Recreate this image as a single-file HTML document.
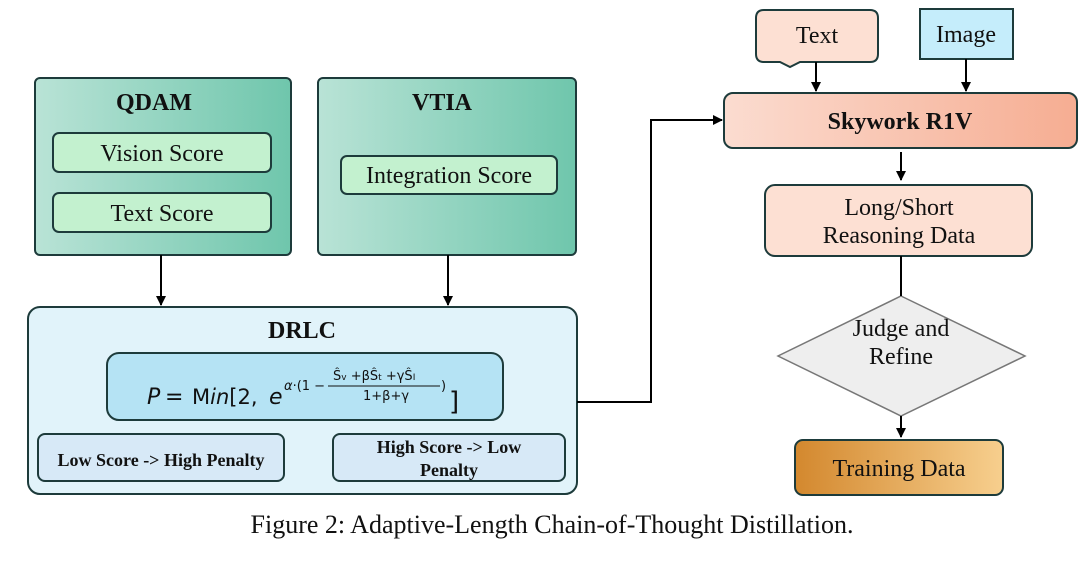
<!DOCTYPE html>
<html><head><style>body{margin:0;background:#fff}</style></head><body>
<svg width="1080" height="560" viewBox="0 0 1080 560" xmlns="http://www.w3.org/2000/svg" font-family="Liberation Serif, serif">
<defs>
<linearGradient id="gq" x1="0" x2="1"><stop offset="0" stop-color="#b9e3d6"/><stop offset="1" stop-color="#6fc6ac"/></linearGradient>
<linearGradient id="gs" x1="0" x2="1"><stop offset="0" stop-color="#fbdcd0"/><stop offset="1" stop-color="#f6ad92"/></linearGradient>
<linearGradient id="gt" x1="0" x2="1"><stop offset="0" stop-color="#d3882e"/><stop offset="1" stop-color="#f7cf8e"/></linearGradient>
<marker id="a" markerWidth="10" markerHeight="10" refX="9" refY="5" orient="auto" markerUnits="userSpaceOnUse"><path d="M0,0 L10,5 L0,10 z" fill="#000"/></marker>
</defs>
<g stroke="#1d3b3b" stroke-width="2">
<rect x="35" y="78" width="256" height="177" rx="5" fill="url(#gq)"/>
<rect x="318" y="78" width="258" height="177" rx="5" fill="url(#gq)"/>
<rect x="53" y="133" width="218" height="39" rx="6" fill="#c3f1cf"/>
<rect x="53" y="193" width="218" height="39" rx="6" fill="#c3f1cf"/>
<rect x="341" y="156" width="216" height="38" rx="6" fill="#c3f1cf"/>
<rect x="28" y="307" width="549" height="187" rx="12" fill="#e1f3fa"/>
<rect x="107" y="353" width="396" height="67" rx="12" fill="#b5e3f4"/>
<rect x="38" y="434" width="246" height="47" rx="7" fill="#d7e9f7"/>
<rect x="333" y="434" width="232" height="47" rx="7" fill="#d7e9f7"/>
<rect x="724" y="93" width="353" height="55" rx="9" fill="url(#gs)"/>
<path d="M764,10 H870 Q878,10 878,18 V54 Q878,62 870,62 H800 L790,67 L780,62 H764 Q756,62 756,54 V18 Q756,10 764,10 Z" fill="#fde0d3"/>
<rect x="920" y="9" width="93" height="50" fill="#c5edfb"/>
<rect x="765" y="185" width="267" height="71" rx="10" fill="#fde0d3"/>
<polygon points="901,296 1025,356 901,416 778,356" fill="#eeeeee" stroke="#777" stroke-width="1.5"/>
<rect x="795" y="440" width="208" height="55" rx="8" fill="url(#gt)"/>
</g>
<g stroke="#000" stroke-width="2" fill="none">
<line x1="161" y1="255" x2="161" y2="305" marker-end="url(#a)"/>
<line x1="448" y1="255" x2="448" y2="305" marker-end="url(#a)"/>
<polyline points="577,402 651,402 651,120 722,120" marker-end="url(#a)"/>
<line x1="816" y1="62" x2="816" y2="91" marker-end="url(#a)"/>
<line x1="966" y1="59" x2="966" y2="91" marker-end="url(#a)"/>
<line x1="901" y1="152" x2="901" y2="180" marker-end="url(#a)"/>
<line x1="901" y1="256" x2="901" y2="296"/>
<line x1="901" y1="416" x2="901" y2="437" marker-end="url(#a)"/>
</g>
<g font-size="24" text-anchor="middle" fill="#111">
<text x="154" y="110" font-weight="bold">QDAM</text>
<text x="442" y="110" font-weight="bold">VTIA</text>
<text x="162" y="161">Vision Score</text>
<text x="162" y="221">Text Score</text>
<text x="449" y="183">Integration Score</text>
<text x="302" y="338" font-weight="bold">DRLC</text>
<text x="161" y="466" font-size="18" font-weight="bold">Low Score -&gt; High Penalty</text>
<text x="449" y="453" font-size="18" font-weight="bold">High Score -&gt; Low</text>
<text x="449" y="476" font-size="18" font-weight="bold">Penalty</text>
<text x="900" y="129" font-weight="bold">Skywork R1V</text>
<text x="817" y="43">Text</text>
<text x="966" y="42">Image</text>
<text x="899" y="215">Long/Short</text>
<text x="899" y="243">Reasoning Data</text>
<text x="901" y="336">Judge and</text>
<text x="901" y="364">Refine</text>
<text x="899" y="476">Training Data</text>
<text x="552" y="533" font-size="26">Figure 2: Adaptive-Length Chain-of-Thought Distillation.</text>
</g>
<g font-family="DejaVu Sans, sans-serif" fill="#111">
<text x="147" y="404" font-size="22" font-style="italic">P</text>
<text x="165" y="404" font-size="22">=</text>
<text x="192" y="404" font-size="21">M<tspan font-style="italic">in</tspan>[2,</text>
<text x="269" y="404" font-size="22" font-style="italic">e</text>
<text x="284" y="390" font-size="13"><tspan font-style="italic">α</tspan>·(1 −</text>
<text x="333" y="380" font-size="13">Ŝ<tspan font-size="9">v</tspan> +βŜ<tspan font-size="9">t</tspan> +γŜ<tspan font-size="9">I</tspan></text>
<line x1="328" y1="386" x2="440" y2="386" stroke="#111" stroke-width="1"/>
<text x="363" y="400" font-size="13">1+β+γ</text>
<text x="441" y="390" font-size="13">)</text>
<text x="449" y="410" font-size="26">]</text>
</g>
</svg>
</body></html>
